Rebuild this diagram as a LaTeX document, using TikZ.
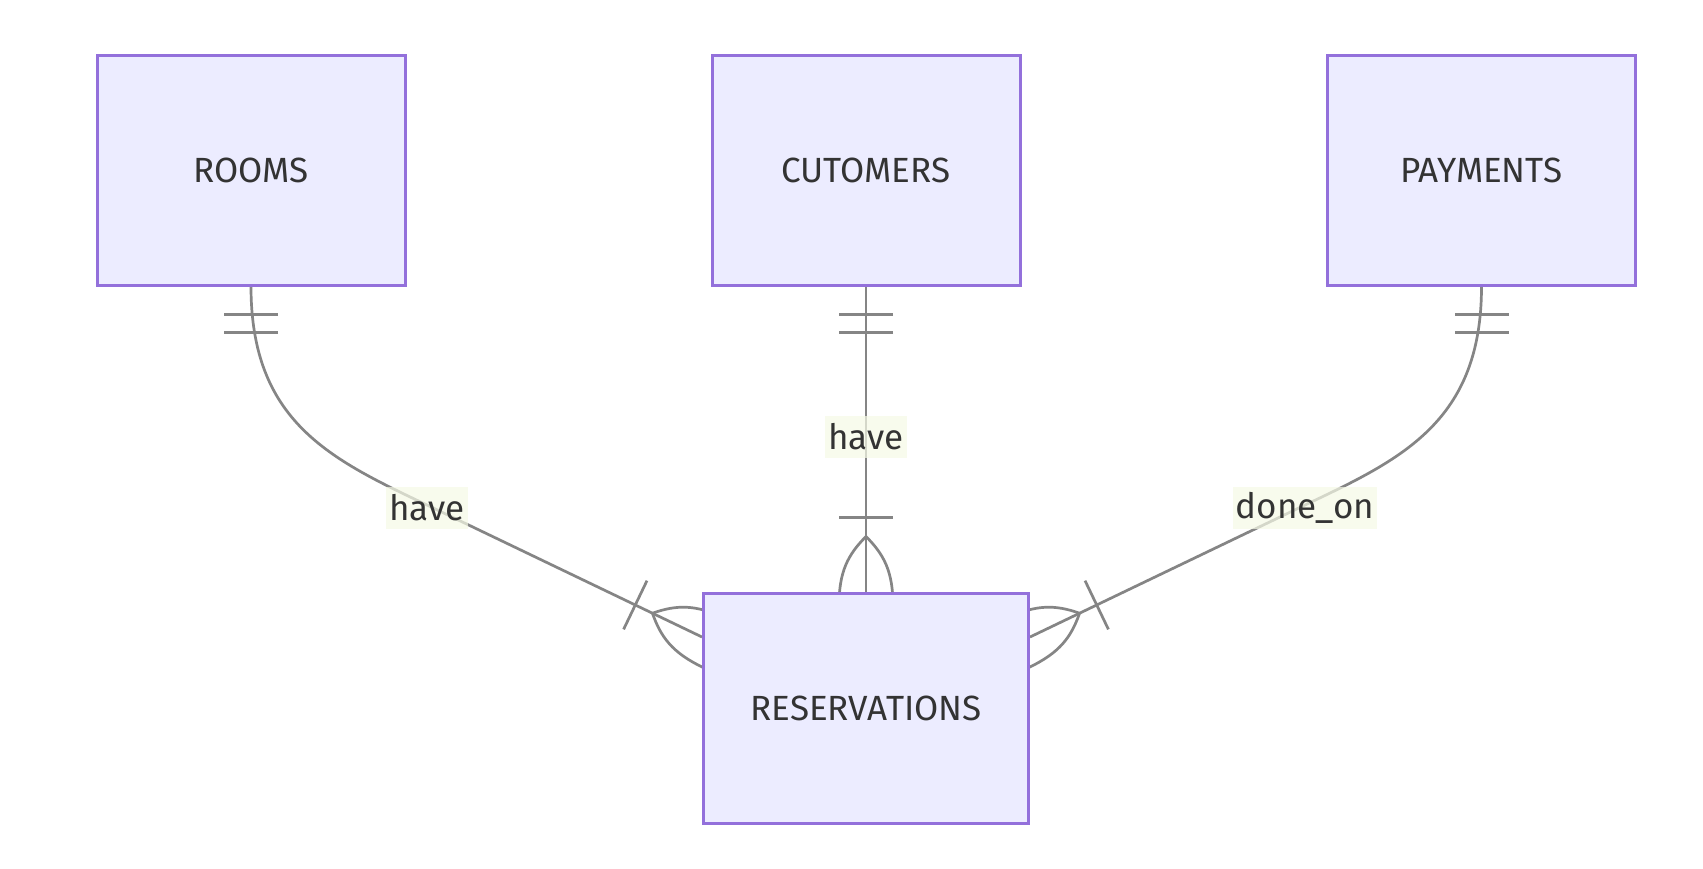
\documentclass[tikz,border=0pt]{standalone}
\usepackage{fontspec}
\setmainfont{Fira Sans}
\usetikzlibrary{calc,backgrounds}
\definecolor{boxfill}{HTML}{ECECFF}
\definecolor{boxline}{HTML}{9370DB}
\definecolor{connc}{HTML}{858585}
\definecolor{txt}{HTML}{333333}
\definecolor{lblfill}{HTML}{F6FAE6}
\tikzset{
  entity/.style={draw=boxline, fill=boxfill, line width=3pt, minimum width=308pt,
    minimum height=230pt, text=txt, font=\fontsize{35}{40}\selectfont, inner sep=0pt},
  conn/.style={draw=connc, line width=2.7pt},
  lbl/.style={fill=lblfill, fill opacity=0.7, text opacity=1, text=txt,
    font=\fontsize{35}{40}\selectfont, inner xsep=3pt, inner ysep=0pt, minimum height=42pt},
  onlyone/.pic={\draw[conn] (28,-27) -- (28,27) (46,-27) -- (46,27);},
  onemany/.pic={\draw[conn] (74,-27) -- (74,27);
    \draw[conn] (-14,27) .. controls (20,27) and (37,18) .. (55,0)
                        .. controls (37,-18) and (20,-27) .. (-14,-27);}
}
\begin{document}
\begin{tikzpicture}[x=1pt,y=-1pt]
\useasboundingbox (0,0) rectangle (1703,868);
\node[entity] (rooms) at (251,170) {ROOMS};
\node[entity] (cust) at (866,170) {CUTOMERS};
\node[entity] (pay) at (1481.5,170) {PAYMENTS};
\node[entity, minimum width=325pt] (res) at (866,708) {RESERVATIONS};
\coordinate (rE) at ([yshift=71pt]res.west);
\coordinate (pE) at ([yshift=71pt]res.east);
\coordinate (lm) at (427,505);
\coordinate (rm) at (1305,505);
\begin{scope}[on background layer]
  \fill[white] (0,0) rectangle (1703,868);
  \draw[conn] (rooms.south) .. controls +(0,135) and +(-97,-46) .. (lm) -- (rE);
  \draw[conn] (cust.south) -- (res.north);
  \draw[conn] (pay.south) .. controls +(0,135) and +(97,-46) .. (rm) -- (pE);
  \pic[rotate=270] at (rooms.south) {onlyone};
  \pic[rotate=270] at (cust.south) {onlyone};
  \pic[rotate=270] at (pay.south) {onlyone};
  \pic[rotate=90] at (res.north) {onemany};
  \path let \p1=($(lm)-(rE)$), \n1={atan2(\y1,\x1)} in pic[rotate=\n1] at (rE) {onemany};
  \path let \p1=($(rm)-(pE)$), \n1={atan2(\y1,\x1)} in pic[rotate=\n1] at (pE) {onemany};
\end{scope}
\node[lbl] (l1) at (427,508) {have};
\node[lbl] (l2) at (866,437) {have};
\node[lbl] (l3) at (1305,508) {done\_on};
\end{tikzpicture}
\end{document}
